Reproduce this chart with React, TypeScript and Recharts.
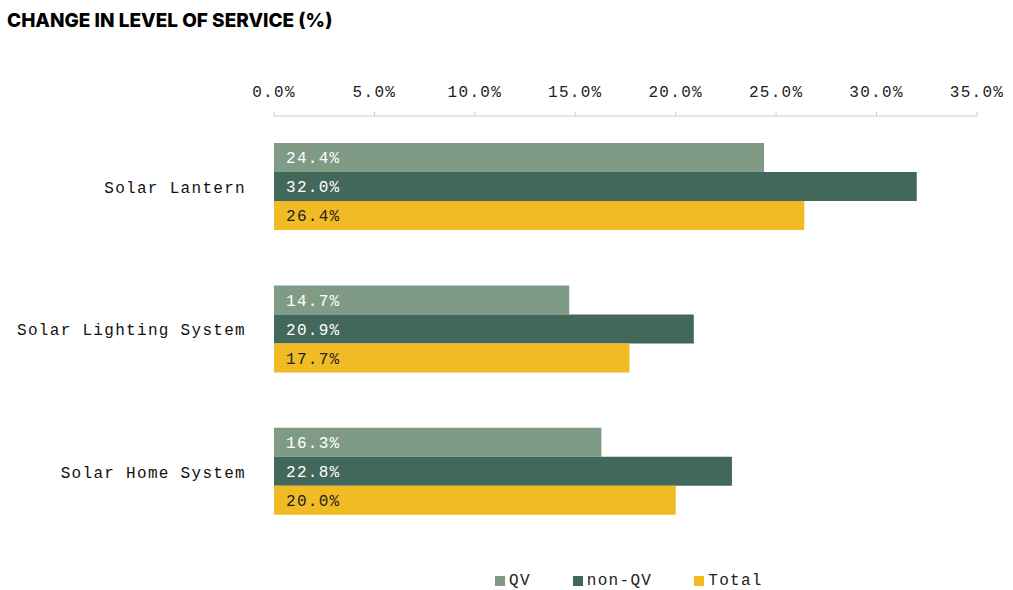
import React from 'react';
import { BarChart, Bar, XAxis, YAxis, Legend, LabelList } from 'recharts';

const categories = ['Solar Lantern', 'Solar Lighting System', 'Solar Home System'];
const qvValues = [24.4, 14.7, 16.3];
const nonQvValues = [32.0, 20.9, 22.8];
const totalValues = [26.4, 17.7, 20.0];
const xTicks = [0, 5, 10, 15, 20, 25, 30, 35];
const seriesNames = ['QV', 'non-QV', 'Total'];
const seriesColors = ['#7F9B85', '#41685A', '#F0BB24'];

const data = categories.map((c, i) => ({
  name: c,
  qv: qvValues[i],
  nonqv: nonQvValues[i],
  total: totalValues[i],
}));

const MONO = '"Liberation Mono", "DejaVu Sans Mono", monospace';
const fmt = (v: number) => `${Number(v).toFixed(1)}%`;

const LegendContent = () => (
  <div style={{ display: 'flex', alignItems: 'center', marginLeft: 495, height: 20, fontFamily: MONO, fontSize: 16, letterSpacing: 1.3, color: '#222' }}>
    {seriesNames.map((n, i) => (
      <div key={n} style={{ display: 'flex', alignItems: 'center', marginRight: 42 }}>
        <span style={{ display: 'inline-block', width: 10, height: 10, background: seriesColors[i], marginRight: 4 }} />
        <span>{n}</span>
      </div>
    ))}
  </div>
);

export default function App() {
  return (
    <div style={{ position: 'absolute', left: 0, top: 0, width: 1013, height: 590, background: '#fff' }}>
      <div style={{ position: 'absolute', left: 7, top: 9, fontFamily: 'Inter, sans-serif', fontWeight: 800, fontSize: 19, letterSpacing: 0, color: '#000', whiteSpace: 'nowrap' }}>
        CHANGE IN LEVEL OF SERVICE (%)
      </div>
      <BarChart
        width={1013}
        height={590}
        data={data}
        layout="vertical"
        margin={{ top: 86, right: 36, bottom: 27, left: 0 }}
        barCategoryGap="19%"
        barGap={0}
      >
        <XAxis
          type="number"
          orientation="top"
          domain={[0, 35]}
          ticks={xTicks}
          interval={0}
          tickFormatter={fmt}
          height={30}
          tickSize={4}
          tickMargin={15}
          axisLine={{ stroke: '#cccccc' }}
          tickLine={{ stroke: '#cccccc' }}
          tick={{ fill: '#222', fontFamily: MONO, fontSize: 16, letterSpacing: 1.3 }}
        />
        <YAxis
          type="category"
          dataKey="name"
          width={274}
          axisLine={false}
          tickLine={false}
          tickSize={0}
          tickMargin={28}
          tick={{ fill: '#111', fontFamily: MONO, fontSize: 16, letterSpacing: 1.3 }}
        />
        <Legend verticalAlign="bottom" content={<LegendContent />} wrapperStyle={{ left: 0, top: 571, width: 1013, height: 20 }} />
        <Bar dataKey="qv" name={seriesNames[0]} fill={seriesColors[0]} isAnimationActive={false}>
          <LabelList dataKey="qv" position="insideLeft" offset={12} formatter={fmt} fill="#ffffff" style={{ fontFamily: MONO, fontSize: 16, letterSpacing: 1.3 }} />
        </Bar>
        <Bar dataKey="nonqv" name={seriesNames[1]} fill={seriesColors[1]} isAnimationActive={false}>
          <LabelList dataKey="nonqv" position="insideLeft" offset={12} formatter={fmt} fill="#ffffff" style={{ fontFamily: MONO, fontSize: 16, letterSpacing: 1.3 }} />
        </Bar>
        <Bar dataKey="total" name={seriesNames[2]} fill={seriesColors[2]} isAnimationActive={false}>
          <LabelList dataKey="total" position="insideLeft" offset={12} formatter={fmt} fill="#222222" style={{ fontFamily: MONO, fontSize: 16, letterSpacing: 1.3 }} />
        </Bar>
      </BarChart>
    </div>
  );
}
